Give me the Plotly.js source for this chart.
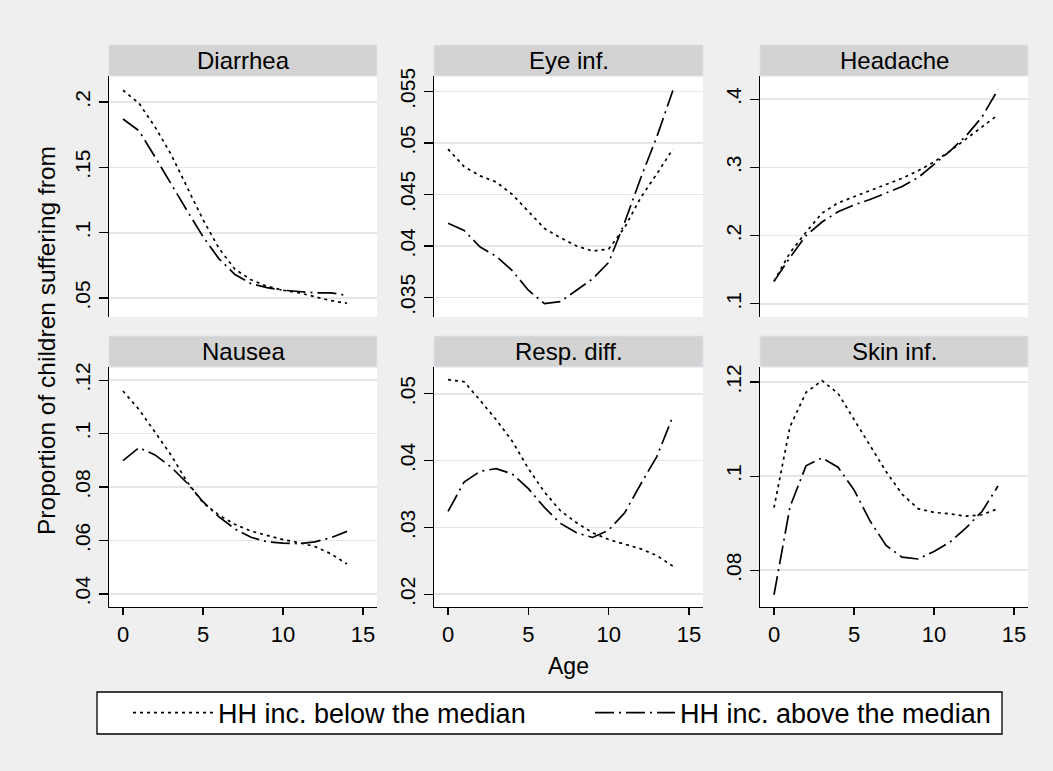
<!DOCTYPE html>
<html>
<head>
<meta charset="utf-8">
<script src="https://cdn.plot.ly/plotly-3.0.1.min.js"></script>
<style>html,body{margin:0;padding:0;background:#EFEFEF;}#chart{width:1053px;height:771px;}</style>
</head>
<body>
<div id="chart"></div>
<script>
// ---------- data ----------
const ages = [0, 1, 2, 3, 4, 5, 6, 7, 8, 9, 10, 11, 12, 13, 14];

const panelTitles = ["Diarrhea", "Eye inf.", "Headache", "Nausea", "Resp. diff.", "Skin inf."];
const seriesNames = ["HH inc. below the median", "HH inc. above the median"];

const diarrheaBelow = [0.209, 0.199, 0.181, 0.160, 0.135, 0.110, 0.088, 0.072, 0.064, 0.059, 0.056, 0.054, 0.051, 0.048, 0.046];
const diarrheaAbove = [0.187, 0.178, 0.158, 0.137, 0.117, 0.097, 0.080, 0.068, 0.061, 0.058, 0.056, 0.055, 0.054, 0.054, 0.052];

const eyeBelow = [0.0494, 0.0477, 0.0468, 0.0462, 0.0450, 0.0433, 0.0417, 0.0408, 0.0400, 0.0395, 0.0397, 0.0418, 0.0447, 0.0470, 0.0494];
const eyeAbove = [0.0422, 0.0415, 0.0399, 0.0390, 0.0376, 0.0357, 0.0344, 0.0346, 0.0357, 0.0368, 0.0384, 0.0423, 0.0466, 0.0506, 0.0551];

const headacheBelow = [0.133, 0.175, 0.205, 0.233, 0.248, 0.257, 0.265, 0.274, 0.284, 0.295, 0.308, 0.324, 0.342, 0.360, 0.377];
const headacheAbove = [0.133, 0.168, 0.200, 0.220, 0.235, 0.245, 0.253, 0.262, 0.272, 0.285, 0.305, 0.324, 0.346, 0.374, 0.414];

const nauseaBelow = [0.1159, 0.1090, 0.1005, 0.0920, 0.0820, 0.0741, 0.0695, 0.0660, 0.0635, 0.0620, 0.0603, 0.0592, 0.0577, 0.0550, 0.0512];
const nauseaAbove = [0.0899, 0.0947, 0.0920, 0.0875, 0.0815, 0.0745, 0.0688, 0.0643, 0.0612, 0.0595, 0.0590, 0.0588, 0.0595, 0.0610, 0.0634];

const respBelow = [0.0521, 0.0518, 0.0490, 0.0461, 0.0429, 0.0388, 0.0353, 0.0325, 0.0307, 0.0292, 0.0282, 0.0275, 0.0268, 0.0258, 0.0242];
const respAbove = [0.0324, 0.0368, 0.0384, 0.0388, 0.0380, 0.0358, 0.0330, 0.0306, 0.0292, 0.0285, 0.0296, 0.0322, 0.0365, 0.0406, 0.0466];

const skinBelow = [0.0933, 0.1105, 0.1178, 0.1203, 0.1176, 0.1121, 0.1064, 0.1010, 0.0962, 0.0931, 0.0923, 0.0920, 0.0915, 0.0918, 0.0931];
const skinAbove = [0.0748, 0.0935, 0.1022, 0.1039, 0.1019, 0.0971, 0.0905, 0.0853, 0.0828, 0.0824, 0.0840, 0.0860, 0.0890, 0.0925, 0.0979];

const xTickVals = [0, 5, 10, 15];
const xTickText = ["0", "5", "10", "15"];

const diarrheaTicks = [0.05, 0.1, 0.15, 0.2];
const diarrheaTickText = [".05", ".1", ".15", ".2"];
const eyeTicks = [0.035, 0.04, 0.045, 0.05, 0.055];
const eyeTickText = [".035", ".04", ".045", ".05", ".055"];
const headacheTicks = [0.1, 0.2, 0.3, 0.4];
const headacheTickText = [".1", ".2", ".3", ".4"];
const nauseaTicks = [0.04, 0.06, 0.08, 0.1, 0.12];
const nauseaTickText = [".04", ".06", ".08", ".1", ".12"];
const respTicks = [0.02, 0.03, 0.04, 0.05];
const respTickText = [".02", ".03", ".04", ".05"];
const skinTicks = [0.08, 0.1, 0.12];
const skinTickText = [".08", ".1", ".12"];

const xAxisTitle = "Age";
const yAxisTitle = "Proportion of children suffering from";

// ---------- layout helpers ----------
const W = 1053, H = 771;
const FONT = "Liberation Sans, Arial, Helvetica, sans-serif";
const colPx = [[109, 377], [434, 703], [760, 1028]];
const rowPx = [[76, 317], [367, 607]]; // plot top, bottom
const stripH = 31;
const px2x = p => p / W;
const px2y = p => 1 - p / H;

const panels = [
  { below: diarrheaBelow, above: diarrheaAbove, ticks: diarrheaTicks, text: diarrheaTickText, range: [0.0355, 0.2199] },
  { below: eyeBelow, above: eyeAbove, ticks: eyeTicks, text: eyeTickText, range: [0.0331, 0.0565] },
  { below: headacheBelow, above: headacheAbove, ticks: headacheTicks, text: headacheTickText, range: [0.0808, 0.434] },
  { below: nauseaBelow, above: nauseaAbove, ticks: nauseaTicks, text: nauseaTickText, range: [0.0351, 0.1249] },
  { below: respBelow, above: respAbove, ticks: respTicks, text: respTickText, range: [0.0181, 0.054] },
  { below: skinBelow, above: skinAbove, ticks: skinTicks, text: skinTickText, range: [0.0722, 0.1232] }
];

const dotDash = "3px,4px";
const longDashDot = "19px,5px,2px,5px";

const legendBase = {
  orientation: "h",
  xanchor: "left",
  y: px2y(713), yanchor: "middle",
  bgcolor: "rgba(0,0,0,0)",
  borderwidth: 0,
  itemwidth: 80,
  font: { family: FONT, size: 27, color: "#000000" },
  itemclick: false, itemdoubleclick: false
};

const traces = [];
const layout = {
  width: W, height: H,
  margin: { l: 0, r: 0, t: 0, b: 0 },
  paper_bgcolor: "#EFEFEF",
  plot_bgcolor: "#FFFFFF",
  font: { family: FONT, color: "#000000", size: 21 },
  showlegend: true,
  legend: Object.assign({}, legendBase, { x: px2x(128) }),
  legend2: Object.assign({}, legendBase, { x: px2x(590) }),
  shapes: [],
  annotations: []
};

// legend frame
layout.shapes.push({
  type: "rect", xref: "paper", yref: "paper", layer: "below",
  x0: px2x(97), x1: px2x(1002), y0: px2y(734), y1: px2y(692),
  fillcolor: "#FFFFFF", line: { color: "#000000", width: 1.3 }
});

panels.forEach((p, i) => {
  const r = Math.floor(i / 3), c = i % 3;
  const n = i + 1;
  const xa = "x" + (n === 1 ? "" : n), ya = "y" + (n === 1 ? "" : n);
  const xKey = "xaxis" + (n === 1 ? "" : n), yKey = "yaxis" + (n === 1 ? "" : n);
  const bottomRow = r === 1;

  traces.push({
    type: "scatter", mode: "lines", x: ages, y: p.below, xaxis: xa, yaxis: ya,
    name: seriesNames[0], legendgroup: "below", showlegend: i === 0, legend: "legend",
    line: { color: "#000000", width: 1.7, dash: dotDash }, hoverinfo: "skip"
  });
  traces.push({
    type: "scatter", mode: "lines", x: ages, y: p.above, xaxis: xa, yaxis: ya,
    name: seriesNames[1], legendgroup: "above", showlegend: i === 0, legend: "legend2",
    line: { color: "#000000", width: 1.7, dash: longDashDot }, hoverinfo: "skip"
  });

  layout[xKey] = {
    domain: [px2x(colPx[c][0]), px2x(colPx[c][1])],
    anchor: ya,
    range: [-0.875, 15.875],
    showgrid: false, zeroline: false,
    showline: bottomRow, linecolor: "#000000", linewidth: 1.3,
    ticks: bottomRow ? "outside" : "", ticklen: 7, tickcolor: "#000000", tickwidth: 1.2,
    tickvals: xTickVals, ticktext: xTickText,
    showticklabels: bottomRow,
    tickfont: { family: FONT, size: 22, color: "#000000" },
    fixedrange: true
  };
  if (n === 5) {
    layout[xKey].title = { text: xAxisTitle, font: { family: FONT, size: 23, color: "#000000" }, standoff: 12 };
  }
  layout[yKey] = {
    domain: [px2y(rowPx[r][1]), px2y(rowPx[r][0])],
    anchor: xa,
    range: p.range,
    showgrid: true, gridcolor: "#E6E6E6", gridwidth: 1.6,
    zeroline: false,
    showline: true, linecolor: "#000000", linewidth: 1.3,
    ticks: "outside", ticklen: 9, tickcolor: "#000000", tickwidth: 1.2,
    tickvals: p.ticks, ticktext: p.text,
    tickangle: -90,
    tickfont: { family: FONT, size: 21, color: "#000000" },
    fixedrange: true
  };

  // strip header
  layout.shapes.push({
    type: "rect", xref: "paper", yref: "paper", layer: "below",
    x0: px2x(colPx[c][0]), x1: px2x(colPx[c][1]),
    y0: px2y(rowPx[r][0]), y1: px2y(rowPx[r][0] - stripH),
    fillcolor: "#D3D3D3", line: { color: "#DCE2EA", width: 1 }
  });
  layout.annotations.push({
    xref: "paper", yref: "paper", showarrow: false,
    x: px2x((colPx[c][0] + colPx[c][1]) / 2), y: px2y(rowPx[r][0] - stripH / 2),
    xanchor: "center", yanchor: "middle",
    text: panelTitles[i],
    font: { family: FONT, size: 24, color: "#000000" }
  });
});

layout.annotations.push({
  xref: "paper", yref: "paper", showarrow: false,
  x: px2x(46), y: px2y(341), xanchor: "center", yanchor: "middle",
  textangle: -90, text: yAxisTitle,
  font: { family: FONT, size: 24.5, color: "#000000" }
});

Plotly.newPlot("chart", traces, layout, { staticPlot: true, displayModeBar: false });
</script>
</body>
</html>
